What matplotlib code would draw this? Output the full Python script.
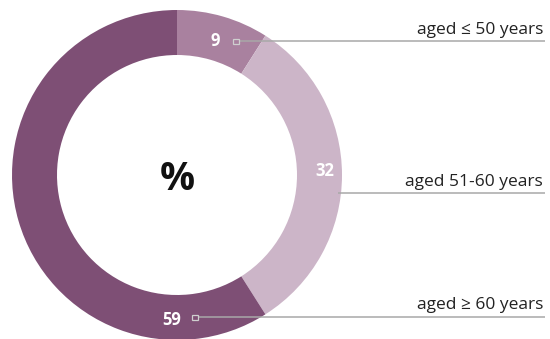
import matplotlib
matplotlib.use("Agg")
import matplotlib.pyplot as plt
from matplotlib.patches import Rectangle

plt.rcParams['font.family'] = ['Open Sans', 'DejaVu Sans']

groups = ["aged ≤ 50 years", "aged 51-60 years", "aged ≥ 60 years"]
shares = [9, 32, 59]
colors = ["#a9819f", "#ccb5c8", "#7e4f75"]

W, H = 550, 339
fig = plt.figure(figsize=(W / 100, H / 100), dpi=100)
ax = fig.add_axes([0, 0, 1, 1])

# ring geometry in pixel units (y measured from the top, flipped below)
cx, cy, r = 177, 175, 165
ax.pie(shares, colors=colors, startangle=90, counterclock=False,
       center=(cx, H - cy), radius=r, frame=True,
       wedgeprops=dict(width=45, linewidth=0))
ax.set_xlim(0, W)
ax.set_ylim(0, H)
ax.set_aspect("equal")
ax.axis("off")

# value labels inside the ring
val_pos = [(215, 41), (325, 171), (172, 320)]
for v, (x, y) in zip(shares, val_pos):
    ax.text(x, H - y, str(v), color="white", fontsize=12, fontweight="bold",
            ha="center", va="center")

# leader lines and category names
line_y = [41, 193, 317]
line_x0 = [236, 335, 195]
marker = [True, False, True]
label_y = [30, 182, 305]
for name, ly, lx0, mk, ty in zip(groups, line_y, line_x0, marker, label_y):
    ax.plot([lx0 + 3, 545], [H - ly, H - ly], color="#a8a8a8", lw=1.1,
            solid_capstyle="butt", zorder=3)
    if mk:
        ax.add_patch(Rectangle((lx0 - 3, H - ly - 2.5), 5.5, 5, fill=False,
                               edgecolor="#cfcfcf", lw=0.9, zorder=4))
    ax.text(543, H - ty, name, color="#222222", fontsize=12.5,
            ha="right", va="center")

ax.text(177, H - 180, "%", color="#111111", fontsize=28, fontweight="bold",
        ha="center", va="center")

fig.savefig("out.png", dpi=100)
